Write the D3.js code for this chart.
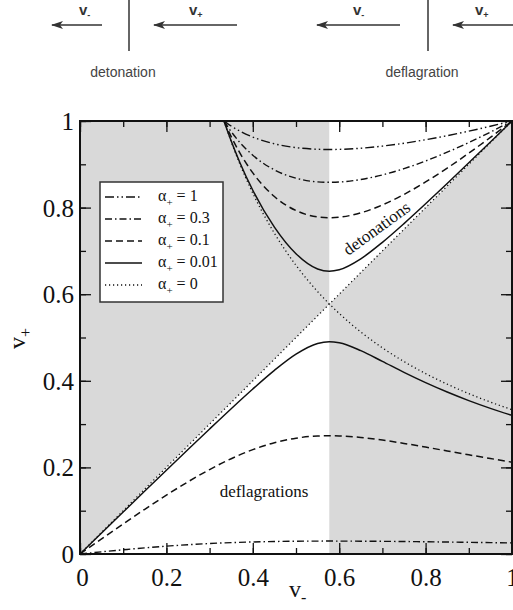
<!doctype html>
<html lang="en">
<head>
  <meta charset="utf-8">
  <script src="https://d3js.org/d3.v7.min.js"></script>
  <style>
    body { margin: 0; background: #fff; }
    svg { display: block; }
  </style>
</head>
<body>
<div id="chart"></div>
<script>
// values
var cs = 0.577; // sound speed, edge of the white regions

var vMinusDet = [0.3333, 0.34, 0.35, 0.37, 0.4, 0.45, 0.5, 0.55, 0.577, 0.6, 0.65, 0.7, 0.75, 0.8, 0.85, 0.9, 0.95, 1.0];
var det_a1   = [1.0, 0.9952, 0.9884, 0.9767, 0.9629, 0.9473, 0.9385, 0.9347, 0.9342, 0.9345, 0.9371, 0.9420, 0.9486, 0.9567, 0.9661, 0.9765, 0.9879, 1.0];
var det_a03  = [1.0, 0.9898, 0.9755, 0.9506, 0.9209, 0.8871, 0.8679, 0.8594, 0.8584, 0.8591, 0.8648, 0.8755, 0.8900, 0.9077, 0.9279, 0.9502, 0.9744, 1.0];
var det_a01  = [1.0, 0.9850, 0.9639, 0.9264, 0.8802, 0.8255, 0.7932, 0.7785, 0.7766, 0.7778, 0.7879, 0.8061, 0.8304, 0.8592, 0.8912, 0.9258, 0.9621, 1.0];
var det_a001 = [1.0, 0.9810, 0.9539, 0.9043, 0.8400, 0.7549, 0.6935, 0.6583, 0.6531, 0.6564, 0.6817, 0.7198, 0.7631, 0.8088, 0.8558, 0.9035, 0.9516, 1.0];
var det_a0   = [1.0, 0.9804, 0.9524, 0.9009, 0.8333, 0.7407, 0.6667, 0.6061, 0.5777, 0.5556, 0.5128, 0.4762, 0.4444, 0.4167, 0.3922, 0.3704, 0.3509, 0.3333];

var vMinusDef = [0, 0.05, 0.1, 0.15, 0.2, 0.25, 0.3, 0.35, 0.4, 0.45, 0.5, 0.55, 0.577, 0.6, 0.65, 0.7, 0.75, 0.8, 0.85, 0.9, 0.95, 1.0];
var def_a03  = [0, 0.0050, 0.0097, 0.0142, 0.0181, 0.0214, 0.0242, 0.0263, 0.0278, 0.0289, 0.0295, 0.0298, 0.0299, 0.0298, 0.0296, 0.0293, 0.0288, 0.0283, 0.0276, 0.0270, 0.0263, 0.0256];
var def_a01  = [0, 0.0349, 0.0695, 0.1033, 0.1359, 0.1667, 0.1950, 0.2201, 0.2410, 0.2569, 0.2674, 0.2725, 0.2731, 0.2727, 0.2692, 0.2631, 0.2554, 0.2469, 0.2380, 0.2291, 0.2205, 0.2121];
var def_a001 = [0, 0.0485, 0.0969, 0.1453, 0.1935, 0.2414, 0.2888, 0.3356, 0.3811, 0.4241, 0.4616, 0.4863, 0.4902, 0.4877, 0.4696, 0.4448, 0.4195, 0.3958, 0.3741, 0.3543, 0.3364, 0.3201];
var def_a0   = [0, 0.05, 0.1, 0.15, 0.2, 0.25, 0.3, 0.35, 0.4, 0.45, 0.5, 0.55, 0.577, 0.6, 0.65, 0.7, 0.75, 0.8, 0.85, 0.9, 0.95, 1.0];

var legendAlphas = ["1", "0.3", "0.1", "0.01", "0"];
var xTicks = [0, 0.2, 0.4, 0.6, 0.8, 1];
var yTicks = [0, 0.2, 0.4, 0.6, 0.8, 1];

// line styles per alpha
var styles = {
  "1":    { dash: "9,3,1.5,3,1.5,3", w: 1.4 },
  "0.3":  { dash: "7,3,1.5,3", w: 1.4 },
  "0.1":  { dash: "7,4", w: 1.5 },
  "0.01": { dash: null, w: 1.5 },
  "0":    { dash: "1.2,2.8", w: 1.3 }
};

var series = [
  { a: "1",    x: vMinusDet, y: det_a1 },
  { a: "0.3",  x: vMinusDet, y: det_a03 },
  { a: "0.1",  x: vMinusDet, y: det_a01 },
  { a: "0.01", x: vMinusDet, y: det_a001 },
  { a: "0",    x: vMinusDet, y: det_a0 },
  { a: "0.3",  x: vMinusDef, y: def_a03 },
  { a: "0.1",  x: vMinusDef, y: def_a01 },
  { a: "0.01", x: vMinusDef, y: def_a001 },
  { a: "0",    x: vMinusDef, y: def_a0 }
];

var W = 513, H = 610;
var svg = d3.select("#chart").append("svg").attr("width", W).attr("height", H);

var serif = "'Liberation Serif', 'Times New Roman', serif";
var sans = "'Liberation Sans', Arial, sans-serif";

// ---- sketch above the chart
var sk = svg.append("g");
svg.append("defs").append("marker")
  .attr("id", "head").attr("viewBox", "0 0 12 8")
  .attr("refX", 11).attr("refY", 4)
  .attr("markerWidth", 12).attr("markerHeight", 8)
  .attr("markerUnits", "userSpaceOnUse").attr("orient", "auto")
  .append("path").attr("d", "M0,0 L12,4 L0,8 L3,4 Z").attr("fill", "#333");

var arrows = [
  { x1: 102, x2: 50,  lab: "-", lx: 79 },
  { x1: 237, x2: 152, lab: "+", lx: 189 },
  { x1: 400, x2: 315, lab: "-", lx: 353 },
  { x1: 515, x2: 451, lab: "+", lx: 475 }
];
arrows.forEach(function(d) {
  sk.append("line").attr("x1", d.x1).attr("x2", d.x2 + 2).attr("y1", 25).attr("y2", 25)
    .attr("stroke", "#333").attr("stroke-width", 1.4).attr("marker-end", "url(#head)");
  var t = sk.append("text").attr("x", d.lx).attr("y", 15)
    .style("font-family", sans).style("font-size", "15px").style("font-weight", "600").attr("fill", "#333");
  t.append("tspan").text("v");
  t.append("tspan").attr("dy", 3).style("font-size", "9px").text(d.lab);
});
[129, 428].forEach(function(x) {
  sk.append("line").attr("x1", x).attr("x2", x).attr("y1", 0).attr("y2", 51)
    .attr("stroke", "#333").attr("stroke-width", 1.5);
});
sk.append("text").attr("x", 123).attr("y", 77).attr("text-anchor", "middle")
  .style("font-family", sans).style("font-size", "14px").attr("fill", "#444").text("detonation");
sk.append("text").attr("x", 422).attr("y", 77).attr("text-anchor", "middle")
  .style("font-family", sans).style("font-size", "14px").attr("fill", "#444").text("deflagration");

// ---- main chart
var x = d3.scaleLinear().domain([0, 1]).range([80, 512]);
var y = d3.scaleLinear().domain([0, 1]).range([554, 121]);

svg.append("clipPath").attr("id", "clip").append("rect")
  .attr("x", x(0)).attr("y", y(1)).attr("width", x(1) - x(0)).attr("height", y(0) - y(1));

var plot = svg.append("g").attr("clip-path", "url(#clip)");
plot.append("rect").attr("x", x(0)).attr("y", y(1))
  .attr("width", x(1) - x(0)).attr("height", y(0) - y(1)).attr("fill", "#d9d9d9");

// white regions
var poly = d3.line().x(function(d) { return x(d[0]); }).y(function(d) { return y(d[1]); });
plot.append("path").attr("d", poly([[0, 0], [cs, cs], [cs, 0]]) + "Z").attr("fill", "#fff");
plot.append("path").attr("d", poly([[cs, cs], [1, 1], [cs, 1]]) + "Z").attr("fill", "#fff");

var line = d3.line()
  .x(function(d) { return x(d[0]); })
  .y(function(d) { return y(d[1]); })
  .curve(d3.curveMonotoneX);

series.forEach(function(s) {
  var pts = s.x.map(function(v, i) { return [v, s.y[i]]; });
  var st = styles[s.a];
  plot.append("path").attr("d", line(pts))
    .attr("fill", "none").attr("stroke", "#111")
    .attr("stroke-width", st.w)
    .attr("stroke-dasharray", st.dash);
});

// region labels
svg.append("text").attr("transform", "translate(380,233) rotate(-36)")
  .attr("text-anchor", "middle").style("font-family", serif).style("font-size", "17px")
  .attr("fill", "#111").text("detonations");
svg.append("text").attr("x", 264).attr("y", 497).attr("text-anchor", "middle")
  .style("font-family", serif).style("font-size", "17px").attr("fill", "#111").text("deflagrations");

// axes with inward ticks on all four sides
var minor = d3.range(0, 1.01, 0.1);
function addAxis(axis, tr) {
  var g = svg.append("g").attr("transform", tr).call(axis);
  g.select(".domain").remove();
  g.selectAll("line").attr("stroke", "#111").attr("stroke-width", 1.3);
  return g;
}
addAxis(d3.axisBottom(x).tickValues(minor).tickSize(-6).tickFormat(""), "translate(0," + y(0) + ")");
addAxis(d3.axisTop(x).tickValues(minor).tickSize(-6).tickFormat(""), "translate(0," + y(1) + ")");
addAxis(d3.axisLeft(y).tickValues(minor).tickSize(-6).tickFormat(""), "translate(" + x(0) + ",0)");
addAxis(d3.axisRight(y).tickValues(minor).tickSize(-6).tickFormat(""), "translate(" + x(1) + ",0)");

var xb = addAxis(d3.axisBottom(x).tickValues(xTicks).tickSize(-11).tickPadding(14).tickFormat(d3.format("")), "translate(0," + y(0) + ")");
addAxis(d3.axisTop(x).tickValues(xTicks).tickSize(-11).tickFormat(""), "translate(0," + y(1) + ")");
var yl = addAxis(d3.axisLeft(y).tickValues(yTicks).tickSize(-11).tickPadding(6).tickFormat(d3.format("")), "translate(" + x(0) + ",0)");
addAxis(d3.axisRight(y).tickValues(yTicks).tickSize(-11).tickFormat(""), "translate(" + x(1) + ",0)");

xb.selectAll("text").style("font-family", serif).style("font-size", "25px").attr("fill", "#111")
  .attr("dy", "0.71em");
yl.selectAll("text").style("font-family", serif).style("font-size", "25px").attr("fill", "#111")
  .attr("dy", "0.34em");
xb.selectAll("text").filter(function(d) { return d === 0; }).attr("dx", 2);

// frame
svg.append("rect").attr("x", x(0)).attr("y", y(1))
  .attr("width", x(1) - x(0)).attr("height", y(0) - y(1))
  .attr("fill", "none").attr("stroke", "#111").attr("stroke-width", 2);

// axis titles
var xt = svg.append("text").attr("x", 289).attr("y", 597)
  .style("font-family", serif).style("font-size", "24px").attr("fill", "#111");
xt.append("tspan").text("v");
xt.append("tspan").attr("dy", 6).style("font-size", "16px").text("-");

var yt = svg.append("text").attr("transform", "translate(25,349) rotate(-90)")
  .style("font-family", serif).style("font-size", "24px").attr("fill", "#111");
yt.append("tspan").text("v");
yt.append("tspan").attr("dy", 6).style("font-size", "16px").text("+");

// legend
var lg = svg.append("g").attr("transform", "translate(100,182)");
lg.append("rect").attr("width", 123).attr("height", 120)
  .attr("fill", "#fff").attr("stroke", "#333").attr("stroke-width", 1.5);
legendAlphas.forEach(function(a, i) {
  var yy = 15 + i * 22;
  var st = styles[a];
  lg.append("line").attr("x1", 5).attr("x2", 42).attr("y1", yy).attr("y2", yy)
    .attr("stroke", "#111").attr("stroke-width", st.w).attr("stroke-dasharray", st.dash);
  var t = lg.append("text").attr("x", 58).attr("y", yy + 4)
    .style("font-family", serif).style("font-size", "16px").attr("fill", "#111");
  t.append("tspan").text("\u03b1");
  t.append("tspan").attr("dy", 5).style("font-size", "11px").text("+");
  t.append("tspan").attr("dy", -5).text(" = " + a);
});
</script>
</body>
</html>
